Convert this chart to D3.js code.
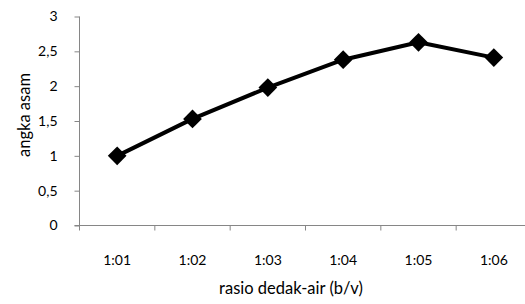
<!DOCTYPE html>
<html><head><meta charset="utf-8">
<script src="https://cdn.jsdelivr.net/npm/d3@7"></script>
<style>body{margin:0;background:#fff}svg{display:block}text{font-family:Lato,"Open Sans",sans-serif;fill:#000}</style>
</head><body>
<script>
const categories = ["1:01","1:02","1:03","1:04","1:05","1:06"];
const values = [1.0, 1.53, 1.98, 2.38, 2.63, 2.41];
const yTicks = [0, 0.5, 1, 1.5, 2, 2.5, 3];
const xTitle = "rasio dedak-air (b/v)";
const yTitle = "angka asam";

const W = 525, H = 304;
const svg = d3.select("body").append("svg").attr("width", W).attr("height", H);
const x = d3.scaleBand().domain(categories).range([79.5, 531.5]).padding(0);
const y = d3.scaleLinear().domain([0, 3]).range([225.5, 16.5]);

const axisColor = "#868686";
// y axis
const ya = svg.append("g").attr("transform", "translate(79.5,0)")
  .call(d3.axisLeft(y).tickValues(yTicks).tickSize(5).tickPadding(17)
    .tickFormat(d => String(d).replace(".", ",")));
ya.select(".domain").attr("stroke", axisColor).attr("d", `M-0,${y(3)}V${y(0)}`);
ya.selectAll(".tick line").attr("stroke", axisColor);
ya.selectAll(".tick text").attr("font-size", 14).attr("font-family", null);

// x axis
const xa = svg.append("g").attr("transform", "translate(0,225.5)")
  .call(d3.axisBottom(x).tickSize(5).tickPadding(25).tickSizeOuter(0));
xa.select(".domain").attr("stroke", axisColor).attr("d", `M${79.5-5},0H${531.5}`);
xa.selectAll(".tick line").attr("stroke", axisColor)
  .attr("transform", d => `translate(${-x.bandwidth()/2},0)`);
xa.selectAll(".tick text").attr("font-size", 14).attr("font-family", null);
xa.append("line").attr("x1", 531.5).attr("x2", 531.5).attr("y1", 0).attr("y2", 5).attr("stroke", axisColor);

const line = d3.line().x((d, i) => x(categories[i]) + x.bandwidth()/2).y(d => y(d));
svg.append("path").datum(values).attr("d", line).attr("fill", "none")
  .attr("stroke", "#000").attr("stroke-width", 4).attr("stroke-linejoin", "round");

const sym = d3.symbol().type(d3.symbolSquare).size(175);
svg.selectAll(".m").data(values).join("path").attr("class", "m")
  .attr("d", sym)
  .attr("transform", (d, i) => `translate(${x(categories[i]) + x.bandwidth()/2},${y(d)}) rotate(45)`)
  .attr("fill", "#000");

svg.append("text").attr("x", 291).attr("y", 294).attr("text-anchor", "middle")
  .attr("font-size", 16.5).text(xTitle);
svg.append("text").attr("transform", "translate(30,115) rotate(-90)").attr("text-anchor", "middle")
  .attr("font-size", 16.5).text(yTitle);
</script>
</body></html>
